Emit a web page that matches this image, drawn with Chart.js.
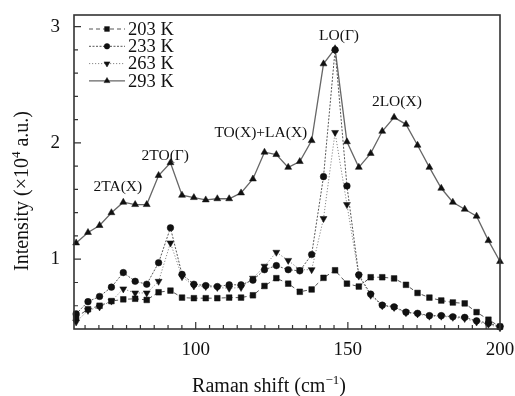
<!DOCTYPE html>
<html><head><meta charset="utf-8">
<script src="https://cdn.jsdelivr.net/npm/chart.js@4/dist/chart.umd.min.js"></script>
<style>html,body{margin:0;padding:0;background:#fff}#wrap{width:515px;height:396px}</style>
</head><body><div id="wrap"><canvas id="c" width="515" height="396"></canvas></div>
<script>
const ramanShift = [60.7, 64.6, 68.4, 72.3, 76.2, 80.1, 83.9, 87.8, 91.7, 95.5, 99.4, 103.3, 107.1, 111.0, 114.9, 118.8, 122.6, 126.5, 130.4, 134.2, 138.1, 142.0, 145.8, 149.7, 153.6, 157.5, 161.3, 165.2, 169.1, 172.9, 176.8, 180.7, 184.5, 188.4, 192.3, 196.2, 200.0];
const int203 = [0.50, 0.57, 0.60, 0.64, 0.655, 0.66, 0.65, 0.716, 0.73, 0.67, 0.665, 0.665, 0.665, 0.67, 0.67, 0.69, 0.77, 0.837, 0.79, 0.72, 0.74, 0.84, 0.905, 0.79, 0.765, 0.845, 0.845, 0.835, 0.78, 0.71, 0.67, 0.645, 0.628, 0.62, 0.545, 0.48, 0.42];
const int233 = [0.53, 0.635, 0.68, 0.76, 0.885, 0.81, 0.785, 0.97, 1.27, 0.87, 0.785, 0.773, 0.765, 0.78, 0.78, 0.82, 0.91, 0.945, 0.91, 0.90, 1.04, 1.71, 2.80, 1.63, 0.865, 0.70, 0.605, 0.59, 0.545, 0.535, 0.515, 0.515, 0.505, 0.50, 0.47, 0.45, 0.42];
const int263 = [0.46, 0.56, 0.59, 0.64, 0.745, 0.71, 0.71, 0.81, 1.14, 0.85, 0.77, 0.765, 0.757, 0.75, 0.757, 0.837, 0.94, 1.06, 0.99, 0.91, 0.91, 1.35, 2.09, 1.47, 0.855, 0.69, 0.60, 0.585, 0.54, 0.53, 0.51, 0.51, 0.50, 0.49, 0.46, 0.44, 0.41];
const int293 = [1.14, 1.23, 1.29, 1.40, 1.49, 1.47, 1.47, 1.72, 1.83, 1.55, 1.53, 1.51, 1.52, 1.52, 1.57, 1.69, 1.92, 1.90, 1.79, 1.84, 2.02, 2.68, 2.81, 2.01, 1.79, 1.91, 2.10, 2.22, 2.16, 1.98, 1.79, 1.61, 1.49, 1.43, 1.37, 1.16, 0.98];
const seriesLabels = ['203 K', '233 K', '263 K', '293 K'];
const xTickValues = [100, 150, 200];
const yTickValues = [1, 2, 3];
const peakLabels = ['2TA(X)', '2TO(Γ)', 'TO(X)+LA(X)', 'LO(Γ)', '2LO(X)'];
const peakLabelX = [74.4, 90.0, 121.4, 147.1, 166.1];
const peakLabelY = [1.62, 1.89, 2.09, 2.92, 2.35];

const SERIF = '"Liberation Serif", "Times New Roman", serif';
const pts = arr => ramanShift.map((x, i) => ({x: x, y: arr[i]}));

const styles = [
  {borderColor: '#555', borderWidth: 1, borderDash: [4, 3], pointStyle: 'rect', pointRadius: 4, pointRotation: 0},
  {borderColor: '#555', borderWidth: 1, borderDash: [2, 1.5], pointStyle: 'circle', pointRadius: 3.3, pointRotation: 0},
  {borderColor: '#888', borderWidth: 1, borderDash: [1.2, 1.8], pointStyle: 'triangle', pointRadius: 4, pointRotation: 180},
  {borderColor: '#666', borderWidth: 1.3, borderDash: [], pointStyle: 'triangle', pointRadius: 4, pointRotation: 0}
];
const seriesData = [int203, int233, int263, int293];

const datasets = seriesData.map((arr, i) => Object.assign({
  label: seriesLabels[i],
  data: pts(arr),
  pointBackgroundColor: '#111',
  pointBorderColor: '#111',
  pointBorderWidth: 0.5,
  tension: 0,
  fill: false,
  clip: false
}, styles[i]));

const decorPlugin = {
  id: 'decor',
  afterDraw(chart) {
    const ctx = chart.ctx;
    const a = chart.chartArea;
    const xs = chart.scales.x, ys = chart.scales.y;
    ctx.save();
    // frame
    ctx.strokeStyle = '#333';
    ctx.lineWidth = 1.6;
    ctx.strokeRect(a.left, a.top, a.right - a.left, a.bottom - a.top);
    // inward ticks
    ctx.lineWidth = 1.2;
    ctx.beginPath();
    for (let k = -9; k <= 22; k++) {
      const v = 100 + k * 50 / 11;
      if (v <= 60.5 || v >= 199.5) continue;
      const px = xs.getPixelForValue(v);
      const major = Math.abs(v - Math.round(v / 50) * 50) < 0.01;
      ctx.moveTo(px, a.bottom);
      ctx.lineTo(px, a.bottom - (major ? 7 : 4));
    }
    for (let k = 3; k <= 15; k++) {
      const v = k * 0.2;
      if (v <= 0.41 || v >= 3.09) continue;
      const py = ys.getPixelForValue(v);
      const major = Math.abs(v - Math.round(v)) < 0.01;
      ctx.moveTo(a.left, py);
      ctx.lineTo(a.left + (major ? 7 : 4), py);
    }
    ctx.stroke();

    // peak labels
    ctx.fillStyle = '#111';
    ctx.font = '15.5px ' + SERIF;
    ctx.textAlign = 'center';
    ctx.textBaseline = 'middle';
    peakLabels.forEach((t, i) => {
      ctx.fillText(t, xs.getPixelForValue(peakLabelX[i]), ys.getPixelForValue(peakLabelY[i]));
    });

    // legend
    const lx0 = a.left + 15, lx1 = a.left + 51, rowY0 = a.top + 14, rowH = 17.3;
    chart.data.datasets.forEach((ds, i) => {
      const y = rowY0 + i * rowH;
      ctx.save();
      ctx.strokeStyle = ds.borderColor;
      ctx.lineWidth = ds.borderWidth;
      ctx.setLineDash(ds.borderDash);
      ctx.beginPath();
      ctx.moveTo(lx0, y); ctx.lineTo(lx1, y);
      ctx.stroke();
      ctx.restore();
      ctx.fillStyle = '#111';
      ctx.strokeStyle = '#111';
      ctx.lineWidth = 0.5;
      Chart.helpers.drawPoint(ctx, {pointStyle: ds.pointStyle, radius: ds.pointRadius * 0.85, rotation: ds.pointRotation, borderWidth: 0.5}, (lx0 + lx1) / 2, y);
      ctx.fillStyle = '#111';
      ctx.font = '18.5px ' + SERIF;
      ctx.textAlign = 'left';
      ctx.textBaseline = 'middle';
      ctx.fillText(ds.label, lx1 + 3, y + 1);
    });

    // x title
    ctx.fillStyle = '#111';
    ctx.textBaseline = 'alphabetic';
    ctx.textAlign = 'left';
    const mainF = '20px ' + SERIF, supF = '13px ' + SERIF;
    const xt1 = 'Raman shift (cm', xsup = '\u22121', xt2 = ')';
    ctx.font = mainF; const w1 = ctx.measureText(xt1).width, w3 = ctx.measureText(xt2).width;
    ctx.font = supF; const w2 = ctx.measureText(xsup).width;
    const xcx = 269, xby = 392;
    let sx = xcx - (w1 + w2 + w3) / 2;
    ctx.font = mainF; ctx.fillText(xt1, sx, xby);
    ctx.font = supF; ctx.fillText(xsup, sx + w1, xby - 8);
    ctx.font = mainF; ctx.fillText(xt2, sx + w1 + w2, xby);

    // y title
    ctx.save();
    ctx.translate(28, 191);
    ctx.rotate(-Math.PI / 2);
    const yt1 = 'Intensity (\u00d710', ysup = '4', yt2 = ' a.u.)';
    ctx.font = mainF; const v1 = ctx.measureText(yt1).width, v3 = ctx.measureText(yt2).width;
    ctx.font = supF; const v2 = ctx.measureText(ysup).width;
    let sy = -(v1 + v2 + v3) / 2;
    ctx.font = mainF; ctx.fillText(yt1, sy, 0);
    ctx.font = supF; ctx.fillText(ysup, sy + v1, -8);
    ctx.font = mainF; ctx.fillText(yt2, sy + v1 + v2, 0);
    ctx.restore();
    ctx.restore();
  }
};

new Chart(document.getElementById('c'), {
  type: 'line',
  data: {datasets: datasets},
  options: {
    responsive: false,
    animation: false,
    devicePixelRatio: 1,
    layout: {padding: {left: 0, top: 15, right: 15, bottom: 0}},
    plugins: {legend: {display: false}, tooltip: {enabled: false}},
    scales: {
      x: {
        type: 'linear', min: 60, max: 200,
        afterBuildTicks: s => { s.ticks = xTickValues.map(v => ({value: v})); },
        afterFit: s => { s.height = 67; s.paddingLeft = 0; s.paddingRight = 0; },
        grid: {display: false, drawTicks: false},
        border: {display: false},
        ticks: {font: {family: SERIF, size: 19}, color: '#111', padding: 10, maxRotation: 0}
      },
      y: {
        type: 'linear', min: 0.4, max: 3.1,
        afterBuildTicks: s => { s.ticks = yTickValues.map(v => ({value: v})); },
        afterFit: s => { s.width = 74; s.paddingTop = 0; s.paddingBottom = 0; },
        grid: {display: false, drawTicks: false},
        border: {display: false},
        ticks: {font: {family: SERIF, size: 19}, color: '#111', padding: 14}
      }
    }
  },
  plugins: [decorPlugin]
});
</script>
</body></html>
